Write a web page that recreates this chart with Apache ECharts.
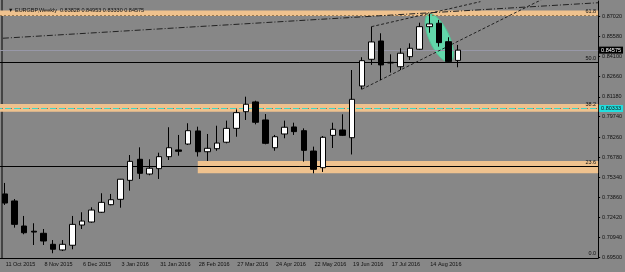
<!DOCTYPE html>
<html>
<head>
<meta charset="utf-8">
<style>
  html, body { margin: 0; padding: 0; background: #878787; }
  #chart { width: 625px; height: 272px; }
</style>
<script src="https://cdn.jsdelivr.net/npm/echarts@6/dist/echarts.min.js"></script>
</head>
<body>
<div id="chart"></div>
<script>
// weekly bars, EURGBP
const weeks = [
  '11 Oct 2015', '18 Oct 2015', '25 Oct 2015', '1 Nov 2015', '8 Nov 2015', '15 Nov 2015',
  '22 Nov 2015', '29 Nov 2015', '6 Dec 2015', '13 Dec 2015', '20 Dec 2015', '27 Dec 2015',
  '3 Jan 2016', '10 Jan 2016', '17 Jan 2016', '24 Jan 2016', '31 Jan 2016', '7 Feb 2016',
  '14 Feb 2016', '21 Feb 2016', '28 Feb 2016', '6 Mar 2016', '13 Mar 2016', '20 Mar 2016',
  '27 Mar 2016', '3 Apr 2016', '10 Apr 2016', '17 Apr 2016', '24 Apr 2016', '1 May 2016',
  '8 May 2016', '15 May 2016', '22 May 2016', '29 May 2016', '5 Jun 2016', '12 Jun 2016',
  '19 Jun 2016', '26 Jun 2016', '3 Jul 2016', '10 Jul 2016', '17 Jul 2016', '24 Jul 2016',
  '31 Jul 2016', '7 Aug 2016', '14 Aug 2016', '21 Aug 2016', '28 Aug 2016', '4 Sep 2016',
];
const opens = [
  0.7412, 0.7361, 0.7179, 0.7141, 0.7126, 0.7046, 0.7005, 0.7039, 0.7186, 0.7208, 0.7279, 0.7334,
  0.7373, 0.7511, 0.7664, 0.7557, 0.7596, 0.7683, 0.7732, 0.7775, 0.7870, 0.7719, 0.7741, 0.7788,
  0.7889, 0.8010, 0.8081, 0.7950, 0.7748, 0.7848, 0.7899, 0.7872, 0.7724, 0.7603, 0.7838, 0.7877,
  0.7821, 0.8197, 0.8391, 0.8524, 0.8369, 0.8337, 0.8410, 0.8464, 0.8628, 0.8653, 0.8519, 0.83828,
];
const closes = [
  0.7346, 0.7191, 0.7130, 0.7135, 0.7070, 0.7010, 0.7046, 0.7191, 0.7215, 0.7295, 0.7351, 0.7370,
  0.7519, 0.7649, 0.7562, 0.7599, 0.7683, 0.7748, 0.7722, 0.7872, 0.7719, 0.7744, 0.7782, 0.7889,
  0.8003, 0.8064, 0.7933, 0.7780, 0.7828, 0.7897, 0.7865, 0.7729, 0.7591, 0.7824, 0.7882, 0.7838,
  0.8100, 0.8381, 0.8517, 0.8350, 0.8364, 0.8435, 0.8471, 0.8628, 0.8648, 0.8512, 0.8374, 0.84575,
];
const lows = [
  0.7332, 0.7167, 0.7119, 0.7041, 0.7041, 0.6981, 0.6997, 0.7010, 0.7157, 0.7203, 0.7274, 0.7330,
  0.7312, 0.7436, 0.7521, 0.7548, 0.7521, 0.7659, 0.7690, 0.7768, 0.7684, 0.7652, 0.7726, 0.7780,
  0.7828, 0.7950, 0.7918, 0.7773, 0.7726, 0.7817, 0.7841, 0.7647, 0.7562, 0.7572, 0.7746, 0.7833,
  0.7699, 0.8173, 0.8350, 0.8240, 0.8294, 0.8313, 0.8386, 0.8459, 0.8584, 0.8483, 0.8370, 0.83330,
];
const highs = [
  0.7492, 0.7375, 0.7252, 0.7199, 0.7157, 0.7077, 0.7077, 0.7252, 0.7279, 0.7315, 0.7417, 0.7412,
  0.7521, 0.7695, 0.7751, 0.7664, 0.7712, 0.7897, 0.7841, 0.7926, 0.7901, 0.7848, 0.7908, 0.7945,
  0.8027, 0.8119, 0.8090, 0.7993, 0.7841, 0.7945, 0.7930, 0.7889, 0.7756, 0.7833, 0.7930, 0.7991,
  0.8313, 0.8406, 0.8628, 0.8580, 0.8427, 0.8471, 0.8507, 0.8657, 0.8722, 0.8677, 0.8551, 0.84953,
];
const priceTicks = [
  0.6950, 0.7094, 0.7242, 0.7386, 0.7534, 0.7678, 0.7826,
  0.7974, 0.8118, 0.8266, 0.8410, 0.8558, 0.8702,
];
// fibo retracement levels (label, price)
const fibNames = ['0.0', '23.6', '38.2', '50.0', '61.8'];
const fibPrices = [0.6947, 0.7612, 0.8033, 0.8371, 0.8711];
// drawn objects: [barIndex, price] pairs
const trendA = [[-0.2, 0.8544], [61.5, 0.8802]];
const trendB = [[38, 0.8628], [49.3, 0.8810]];
const trendC = [[37, 0.8173], [56.5, 0.8855]];
const ellipse = [[43.91, 0.8717, 46.17, 0.8374]];
const zoneTop = [0.8745, 0.8705];
const zoneMid = [0.8066, 0.8010];
const zoneLow = [20, 0.7652, 0.7562];
const hLine = 0.80333;
const bid = closes[closes.length - 1];

const shiftBars = 14; // empty space on the right
const cats = weeks.concat(Array(shiftBars).fill(''));
const n = weeks.length;
const font = 'Liberation Sans, Arial, DejaVu Sans, sans-serif';
const fs = 5.5;

const candles = weeks.map((w, i) => [opens[i], closes[i], lows[i], highs[i]]);
const showWeek = (i) => i % 4 === 0 && i < n;

const chart = echarts.init(document.getElementById('chart'));
chart.setOption({
  animation: false,
  backgroundColor: '#878787',
  title: {
    text: '▼ EURGBP,Weekly  ' + [opens[n - 1], highs[n - 1], lows[n - 1], closes[n - 1]].map((v) => v.toFixed(5)).join(' '),
    left: 3,
    top: 2,
    textStyle: { fontSize: fs, fontWeight: 'normal', color: '#111', fontFamily: font },
  },
  grid: { left: -3, right: 26, top: 1, bottom: 14 },
  xAxis: [
    {
      type: 'category',
      data: cats,
      boundaryGap: true,
      axisLine: { onZero: false, lineStyle: { color: '#000', width: 1 } },
      axisTick: { alignWithLabel: true, interval: showWeek, length: 4, lineStyle: { color: '#000' } },
      axisLabel: {
        interval: showWeek,
        align: 'left',
        margin: 3,
        padding: [0, 0, 0, 1],
        fontSize: fs,
        color: '#111',
        fontFamily: font,
      },
      splitLine: { show: false },
    },
    {
      type: 'value',
      min: -0.5,
      max: cats.length - 0.5,
      show: false,
      axisLine: { onZero: false },
    },
  ],
  yAxis: {
    type: 'value',
    position: 'right',
    min: 0.69464,
    max: 0.88147,
    axisLine: { show: true, onZero: false, lineStyle: { color: '#000', width: 1 } },
    axisTick: { show: true, length: 2, customValues: priceTicks, lineStyle: { color: '#000' } },
    axisLabel: {
      customValues: priceTicks,
      formatter: (v) => v.toFixed(5),
      margin: 4,
      fontSize: fs,
      color: '#111',
      fontFamily: font,
    },
    splitLine: { show: false },
  },
  graphic: [
    { type: 'line', shape: { x1: 2, y1: 0, x2: 2, y2: 258 }, style: { stroke: '#000', lineWidth: 1 } },
  ],
  series: [
    {
      type: 'candlestick',
      data: candles,
      barWidth: 6,
      z: 10,
      silent: true,
      itemStyle: {
        color: '#ffffff',
        color0: '#000000',
        borderColor: '#000000',
        borderColor0: '#000000',
        borderWidth: 1,
      },
    },
    {
      type: 'custom',
      xAxisIndex: 1,
      z: 3,
      silent: true,
      data: ellipse,
      renderItem: (params, api) => {
        const a = api.coord([api.value(0), api.value(1)]);
        const b = api.coord([api.value(2), api.value(3)]);
        const cx = (a[0] + b[0]) / 2;
        const cy = (a[1] + b[1]) / 2;
        const rx = Math.hypot(b[0] - a[0], b[1] - a[1]) / 2;
        const ry = 10;
        const ang = Math.atan2(b[1] - a[1], b[0] - a[0]);
        const pts = [];
        for (let k = 0; k < 60; k++) {
          const t = (k / 60) * Math.PI * 2;
          const u = rx * Math.cos(t);
          const v = ry * Math.sin(t);
          pts.push([cx + u * Math.cos(ang) - v * Math.sin(ang), cy + u * Math.sin(ang) + v * Math.cos(ang)]);
        }
        return { type: 'polygon', shape: { points: pts }, style: { fill: '#62d6a9', stroke: '#52c697', lineWidth: 1 } };
      },
    },
    {
      type: 'line',
      xAxisIndex: 1,
      data: trendA,
      symbol: 'none',
      silent: true,
      z: 6,
      lineStyle: { color: '#222', width: 1, type: [6, 2, 1, 2] },
      markArea: {
        silent: true,
        z: 1,
        itemStyle: { color: '#efc28e' },
        data: [
          [{ yAxis: zoneTop[0] }, { yAxis: zoneTop[1] }],
          [{ yAxis: zoneMid[0] }, { yAxis: zoneMid[1] }],
          [{ xAxis: zoneLow[0], yAxis: zoneLow[1] }, { xAxis: cats.length - 0.5, yAxis: zoneLow[2] }],
        ],
      },
      markLine: {
        silent: true,
        symbol: 'none',
        precision: 5,
        z: 4,
        label: {
          position: 'insideEndTop',
          distance: [2, 1],
          fontSize: fs,
          color: '#111',
          fontFamily: font,
        },
        lineStyle: { color: '#000', width: 1, type: 'solid' },
        data: fibPrices.map((p, i) => ({
          yAxis: p,
          label: { formatter: fibNames[i] },
          lineStyle: i === 4 ? { color: '#9a7a50', type: [2, 2] } : (i === 2 ? { color: '#a0704a', type: [3, 6] } : {}),
        })).concat([
          {
            yAxis: hLine,
            lineStyle: { color: '#3fd6c8', type: [6, 3], dashOffset: 4 },
            label: {
              position: 'end',
              distance: 1,
              formatter: hLine.toFixed(5),
              backgroundColor: '#22dede',
              color: '#111',
              padding: [1, 2, 0, 2],
            },
          },
          {
            yAxis: bid,
            lineStyle: { color: '#9898a8', type: 'solid' },
            label: {
              position: 'end',
              distance: 1,
              formatter: bid.toFixed(5),
              backgroundColor: '#000',
              color: '#fff',
              padding: [1, 2, 0, 2],
            },
          },
        ]),
      },
    },
    {
      type: 'line',
      xAxisIndex: 1,
      data: trendB,
      symbol: 'none',
      silent: true,
      z: 6,
      lineStyle: { color: '#222', width: 1, type: [3, 2] },
    },
    {
      type: 'line',
      xAxisIndex: 1,
      data: trendC,
      symbol: 'none',
      silent: true,
      z: 6,
      lineStyle: { color: '#222', width: 1, type: [3, 2] },
    },
  ],
});
</script>
</body>
</html>
